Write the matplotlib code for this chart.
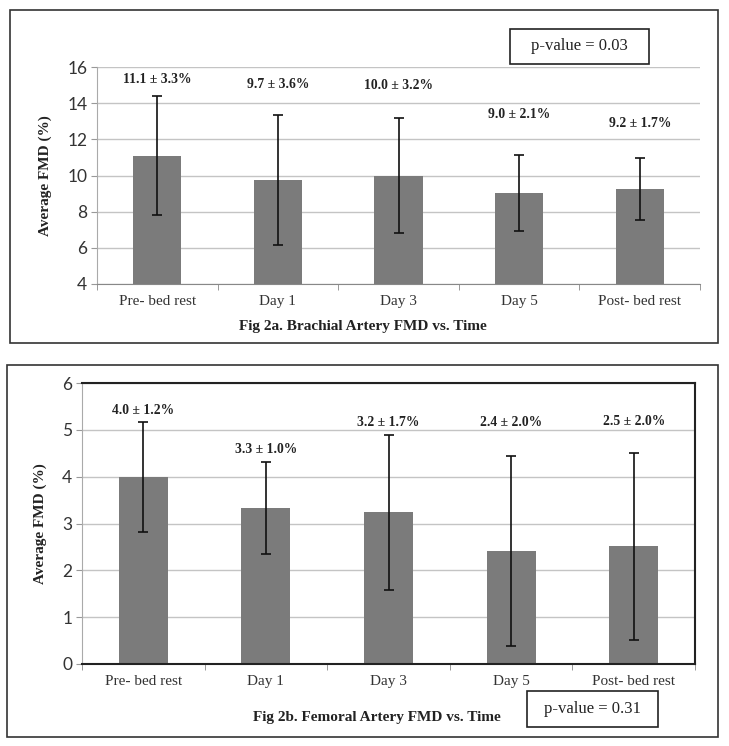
import matplotlib
matplotlib.use("Agg")
import matplotlib.pyplot as plt
from matplotlib.patches import Rectangle

# ---------------- data ----------------
categories = ["Pre- bed rest", "Day 1", "Day 3", "Day 5", "Post- bed rest"]

brachial_mean = [11.1, 9.75, 10.0, 9.05, 9.25]
brachial_err = [3.3, 3.6, 3.2, 2.1, 1.7]
brachial_labels = ["11.1 \u00b1 3.3%", "9.7 \u00b1 3.6%", "10.0 \u00b1 3.2%",
                   "9.0 \u00b1 2.1%", "9.2 \u00b1 1.7%"]
brachial_yticks = [4, 6, 8, 10, 12, 14, 16]

femoral_mean = [3.99, 3.33, 3.24, 2.41, 2.51]
femoral_err = [1.18, 0.99, 1.65, 2.03, 1.99]
femoral_labels = ["4.0 \u00b1 1.2%", "3.3 \u00b1 1.0%", "3.2 \u00b1 1.7%",
                  "2.4 \u00b1 2.0%", "2.5 \u00b1 2.0%"]
femoral_yticks = [0, 1, 2, 3, 4, 5, 6]

# ---------------- layout ----------------
W, H = 729, 746
fig = plt.figure(figsize=(W / 100, H / 100), dpi=100)
fig.patch.set_facecolor("white")

def fx(px):
    return px / W

def fy(py):
    return 1 - py / H

SERIF = ["Liberation Serif", "DejaVu Serif"]
SANS = ["Lato", "DejaVu Sans"]
BAR = "#7b7b7b"
GRID = "#c4c4c4"

brachial_label_y = [15.3, 15.05, 15.0, 13.4, 12.9]
femoral_label_y = [5.41, 4.57, 5.15, 5.15, 5.17]

def panel(ax, means, errs, labels, label_y, yticks, dark_frame):
    x = list(range(len(categories)))
    ax.bar(x, means, width=0.40, color=BAR, zorder=2)
    ax.errorbar(x, means, yerr=errs, fmt="none", ecolor="#111111",
                elinewidth=1.2, capsize=3.5, capthick=1.2, zorder=3)
    for xi, lab, ly in zip(x, labels, label_y):
        ax.text(xi, ly, lab, ha="center", va="center", fontsize=9.8,
                fontweight="bold", family=SERIF, color="#222222")
    ax.set_xlim(-0.5, len(categories) - 0.5)
    ax.set_ylim(yticks[0], yticks[-1])
    ax.set_yticks(yticks)
    ax.set_xticks(x)
    ax.set_xticklabels(categories, family=SERIF, fontsize=11, color="#333333")
    for t in ax.get_yticklabels():
        t.set_family(SANS)
        t.set_fontsize(12.5)
        t.set_color("#333333")
    ax.yaxis.grid(True, color=GRID, linewidth=1.0, zorder=0)
    ax.set_axisbelow(True)
    ax.tick_params(axis="y", length=4, color="#999999", pad=3)
    ax.tick_params(axis="x", length=0, pad=8)
    # minor ticks on category boundaries
    ax.set_xticks([i + 0.5 for i in range(-1, len(categories))], minor=True)
    ax.tick_params(axis="x", which="minor", length=4, color="#888888",
                   direction="out")
    ax.set_ylabel("Average FMD (%)", family=SERIF, fontweight="bold",
                  fontsize=11, color="#222222")
    ax.spines["left"].set_color("#aaaaaa")
    if dark_frame:
        for s in ("top", "right", "bottom"):
            ax.spines[s].set_color("#222222")
            ax.spines[s].set_linewidth(1.5)
    else:
        ax.spines["top"].set_visible(False)
        ax.spines["right"].set_visible(False)
        ax.spines["bottom"].set_color("#888888")

# ----- top panel -----
ax1 = fig.add_axes([fx(97), fy(284), fx(700) - fx(97), fy(67) - fy(284)])
panel(ax1, brachial_mean, brachial_err, brachial_labels, brachial_label_y,
      brachial_yticks, dark_frame=False)
ax1.yaxis.set_label_coords((52 - 97) / (700 - 97), 0.5)

fig.patches.append(Rectangle((fx(10), fy(343)), fx(718) - fx(10), fy(10) - fy(343),
                             transform=fig.transFigure, fill=False,
                             edgecolor="#333333", linewidth=1.2))
fig.text(fx(363), fy(327), "Fig 2a. Brachial Artery FMD vs. Time",
         ha="center", va="center", family=SERIF, fontweight="bold",
         fontsize=11, color="#222222")
fig.patches.append(Rectangle((fx(510), fy(64)), fx(649) - fx(510), fy(29) - fy(64),
                             transform=fig.transFigure, fill=False,
                             edgecolor="#222222", linewidth=1.2))
fig.text(fx(579.5), fy(46.5), "p-value = 0.03", ha="center", va="center",
         family=SERIF, fontsize=12, color="#222222")

# ----- bottom panel -----
ax2 = fig.add_axes([fx(82), fy(664), fx(695) - fx(82), fy(383) - fy(664)])
panel(ax2, femoral_mean, femoral_err, femoral_labels, femoral_label_y,
      femoral_yticks, dark_frame=True)
ax2.yaxis.set_label_coords((47 - 82) / (695 - 82), 0.5)

fig.patches.append(Rectangle((fx(7), fy(737)), fx(718) - fx(7), fy(365) - fy(737),
                             transform=fig.transFigure, fill=False,
                             edgecolor="#333333", linewidth=1.2))
fig.text(fx(377), fy(718), "Fig 2b. Femoral Artery FMD vs. Time",
         ha="center", va="center", family=SERIF, fontweight="bold",
         fontsize=11, color="#222222")
fig.patches.append(Rectangle((fx(527), fy(727)), fx(658) - fx(527), fy(691) - fy(727),
                             transform=fig.transFigure, fill=False,
                             edgecolor="#222222", linewidth=1.2))
fig.text(fx(592.5), fy(709), "p-value = 0.31", ha="center", va="center",
         family=SERIF, fontsize=12, color="#222222")

fig.savefig("out.png", dpi=100, facecolor="white")
